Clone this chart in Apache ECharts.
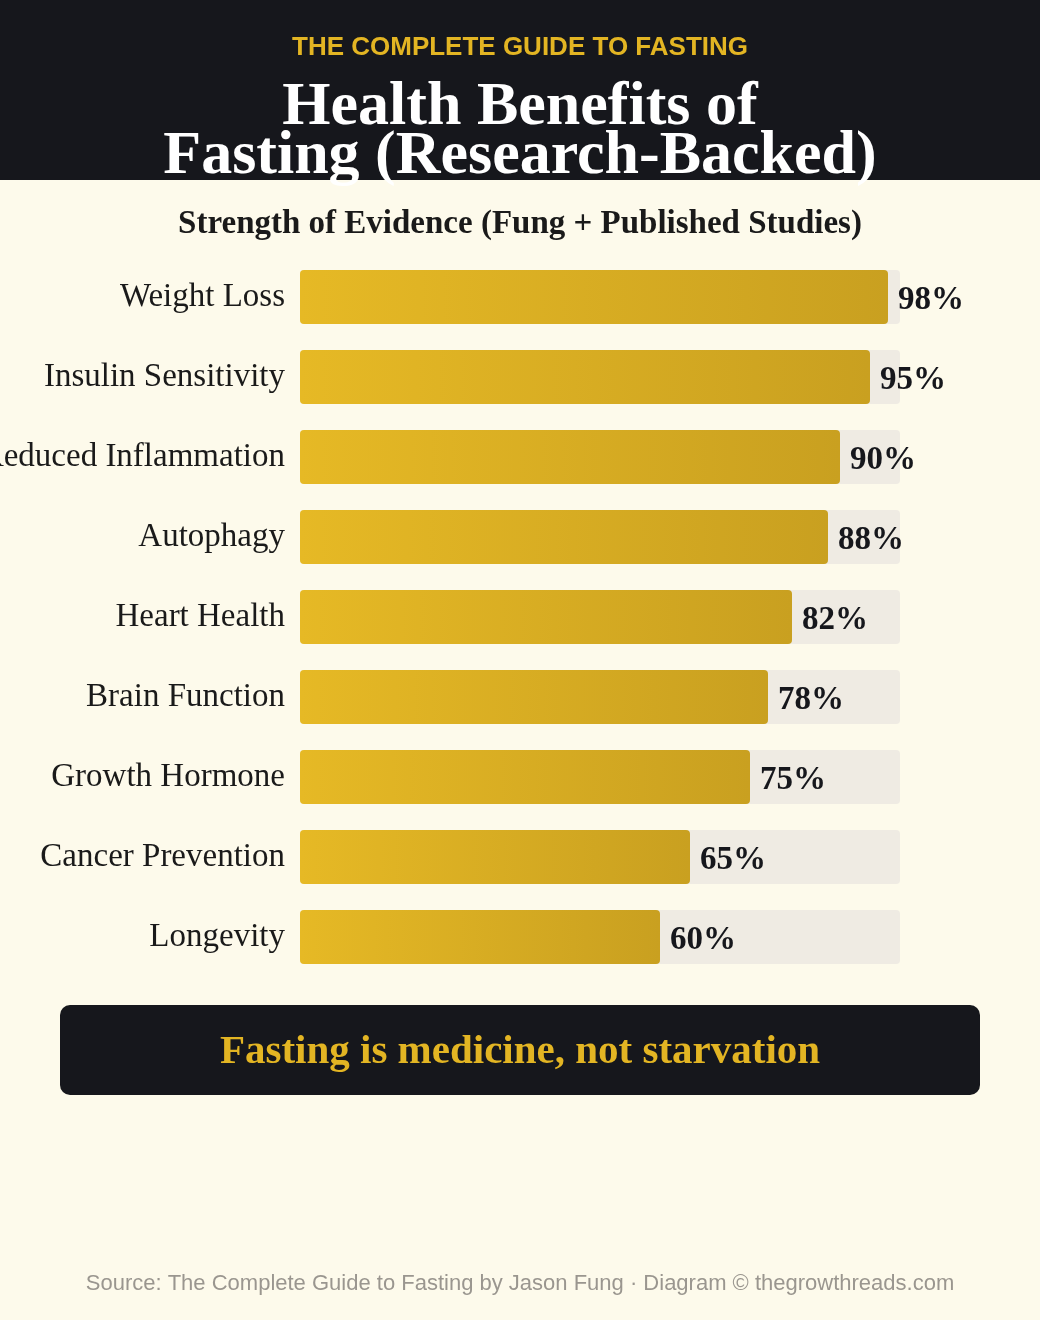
<!DOCTYPE html>
<html>
<head>
<meta charset="utf-8">
<script src="https://cdn.jsdelivr.net/npm/echarts@6/dist/echarts.min.js"></script>
<style>
  html, body { margin: 0; padding: 0; background: #fdfaeb; }
  #chart { width: 1040px; height: 1320px; }
</style>
</head>
<body>
<div id="chart"></div>
<script>
// benefit names, top to bottom
const benefits = ['Weight Loss', 'Insulin Sensitivity', 'Reduced Inflammation', 'Autophagy',
  'Heart Health', 'Brain Function', 'Growth Hormone', 'Cancer Prevention', 'Longevity'];
// evidence strength, percent
const evidence = [98, 95, 90, 88, 82, 78, 75, 65, 60];

const dark = '#16171c';
const gold = '#e3b523';
const serif = "'Liberation Serif', 'DejaVu Serif', serif";
const sans = "'Liberation Sans', Arial, sans-serif";

const chart = echarts.init(document.getElementById('chart'));
chart.setOption({
  backgroundColor: '#fdfaeb',
  animation: false,
  grid: { left: 300, width: 600, top: 257, height: 720, containLabel: false, outerBoundsMode: 'none' },
  xAxis: { type: 'value', min: 0, max: 100, show: false },
  yAxis: {
    type: 'category',
    data: benefits,
    inverse: true,
    axisLine: { show: false },
    axisTick: { show: false },
    axisLabel: { margin: 15, fontFamily: serif, fontSize: 33, color: '#1a1a1a', padding: [14, 0, 0, 0] }
  },
  series: [{
    type: 'bar',
    data: evidence,
    barWidth: 54,
    showBackground: true,
    backgroundStyle: { color: '#efebe3', borderRadius: 4 },
    itemStyle: {
      borderRadius: 4,
      color: new echarts.graphic.LinearGradient(0, 0, 1, 0, [
        { offset: 0, color: '#e6b925' },
        { offset: 1, color: '#c9a020' }
      ])
    },
    label: {
      show: true,
      position: 'right',
      distance: 10,
      offset: [0, 3],
      formatter: '{c}%',
      fontFamily: serif,
      fontWeight: 'bold',
      fontSize: 33,
      color: dark
    }
  }],
  graphic: [
    { type: 'rect', left: 0, top: 0, z: -1, shape: { width: 1040, height: 180 }, style: { fill: dark } },
    { type: 'text', x: 520, y: 48, style: { text: 'THE COMPLETE GUIDE TO FASTING', font: 'bold 26px ' + sans, fill: gold, align: 'center', verticalAlign: 'middle' } },
    { type: 'text', x: 520, y: 108, style: { text: 'Health Benefits of', font: 'bold 62px ' + serif, fill: '#ffffff', align: 'center', verticalAlign: 'middle' } },
    { type: 'text', x: 520, y: 157, style: { text: 'Fasting (Research-Backed)', font: 'bold 62px ' + serif, fill: '#ffffff', align: 'center', verticalAlign: 'middle' } },
    { type: 'text', x: 520, y: 224, style: { text: 'Strength of Evidence (Fung + Published Studies)', font: 'bold 33px ' + serif, fill: '#1a1a1a', align: 'center', verticalAlign: 'middle' } },
    { type: 'rect', left: 60, top: 1005, shape: { width: 920, height: 90, r: 10 }, style: { fill: dark } },
    { type: 'text', x: 520, y: 1052, style: { text: 'Fasting is medicine, not starvation', font: 'bold 41px ' + serif, fill: gold, align: 'center', verticalAlign: 'middle' } },
    { type: 'text', x: 520, y: 1284, style: { text: 'Source: The Complete Guide to Fasting by Jason Fung \u00b7 Diagram \u00a9 thegrowthreads.com', font: '22px ' + sans, fill: '#9a968f', align: 'center', verticalAlign: 'middle' } }
  ]
});
</script>
</body>
</html>
